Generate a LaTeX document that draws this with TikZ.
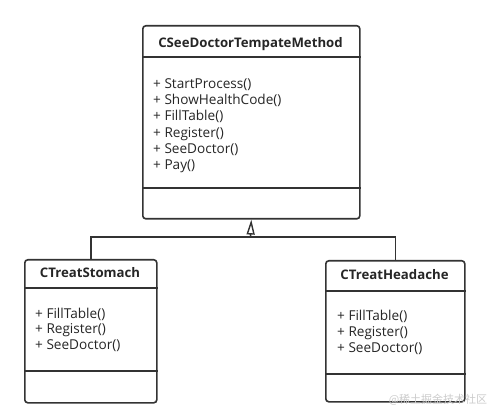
\documentclass[tikz,border=0pt]{standalone}
\usepackage{fontspec}
\setmainfont{Open Sans}
\newfontfamily\cjk{Noto Sans CJK SC}
\usetikzlibrary{arrows.meta}
\definecolor{linecol}{HTML}{333333}
\definecolor{textcol}{HTML}{262626}
\definecolor{wmcol}{HTML}{CCCCCC}
\tikzset{
  classbox/.style={draw=linecol, line width=1.6pt, rounded corners=3pt, inner sep=0pt, anchor=north west, fill=white},
  sepline/.style={draw=linecol, line width=1.6pt},
  conn/.style={draw=linecol, line width=1.6pt},
  title/.style={font=\fontsize{13.2}{16}\selectfont\bfseries, text=textcol, anchor=base, inner sep=0pt},
  member/.style={font=\fontsize{13.6}{16}\selectfont, text=textcol, anchor=base west, inner sep=0pt},
  watermark/.style={font=\cjk\fontsize{11}{13}\selectfont, text=wmcol, anchor=center, inner sep=0pt}
}
\begin{document}
\begin{tikzpicture}[x=1pt,y=-1pt]
\useasboundingbox[fill=white] (0,0) rectangle (496,417);
% template class
\node[classbox, minimum width=217pt, minimum height=193pt] (tpl) at (142,25) {};
\draw[sepline] ([yshift=-32pt]tpl.north west) -- ([yshift=-32pt]tpl.north east);
\draw[sepline] ([yshift=-163pt]tpl.north west) -- ([yshift=-163pt]tpl.north east);
\node[title] (tplname) at (250.5,47.3) {CSeeDoctorTempateMethod};
\node[member] (t1) at (153,88.5) {+ StartProcess()};
\node[member] (t2) at (153,104.7) {+ ShowHealthCode()};
\node[member] (t3) at (153,120.9) {+ FillTable()};
\node[member] (t4) at (153,137.1) {+ Register()};
\node[member] (t5) at (153,153.3) {+ SeeDoctor()};
\node[member] (t6) at (153,169.5) {+ Pay()};
% stomach
\node[classbox, minimum width=132pt, minimum height=143pt] (stomach) at (24,259) {};
\draw[sepline] ([yshift=-29pt]stomach.north west) -- ([yshift=-29pt]stomach.north east);
\draw[sepline] ([yshift=-112pt]stomach.north west) -- ([yshift=-112pt]stomach.north east);
\node[title] (stname) at (90,278) {CTreatStomach};
\node[member] (s1) at (35,318.3) {+ FillTable()};
\node[member] (s2) at (35,334) {+ Register()};
\node[member] (s3) at (35,349.7) {+ SeeDoctor()};
% headache
\node[classbox, minimum width=139pt, minimum height=141pt] (headache) at (325,260) {};
\draw[sepline] ([yshift=-31pt]headache.north west) -- ([yshift=-31pt]headache.north east);
\draw[sepline] ([yshift=-114pt]headache.north west) -- ([yshift=-114pt]headache.north east);
\node[title] (hdname) at (394.5,279.3) {CTreatHeadache};
\node[member] (h1) at (337,320.7) {+ FillTable()};
\node[member] (h2) at (337,336.7) {+ Register()};
\node[member] (h3) at (337,352.7) {+ SeeDoctor()};
% inheritance
\coordinate (jn) at (250.5,237);
\draw[conn] (stomach.north) |- (jn);
\draw[conn] (headache.north) |- (jn);
\draw[conn, -{Triangle[open, length=15pt, width=8pt, line width=1.4pt]}] (jn) -- (tpl.south);
% watermark
\node[watermark] (wm) at (438,400) {@稀土掘金技术社区};
\end{tikzpicture}
\end{document}
